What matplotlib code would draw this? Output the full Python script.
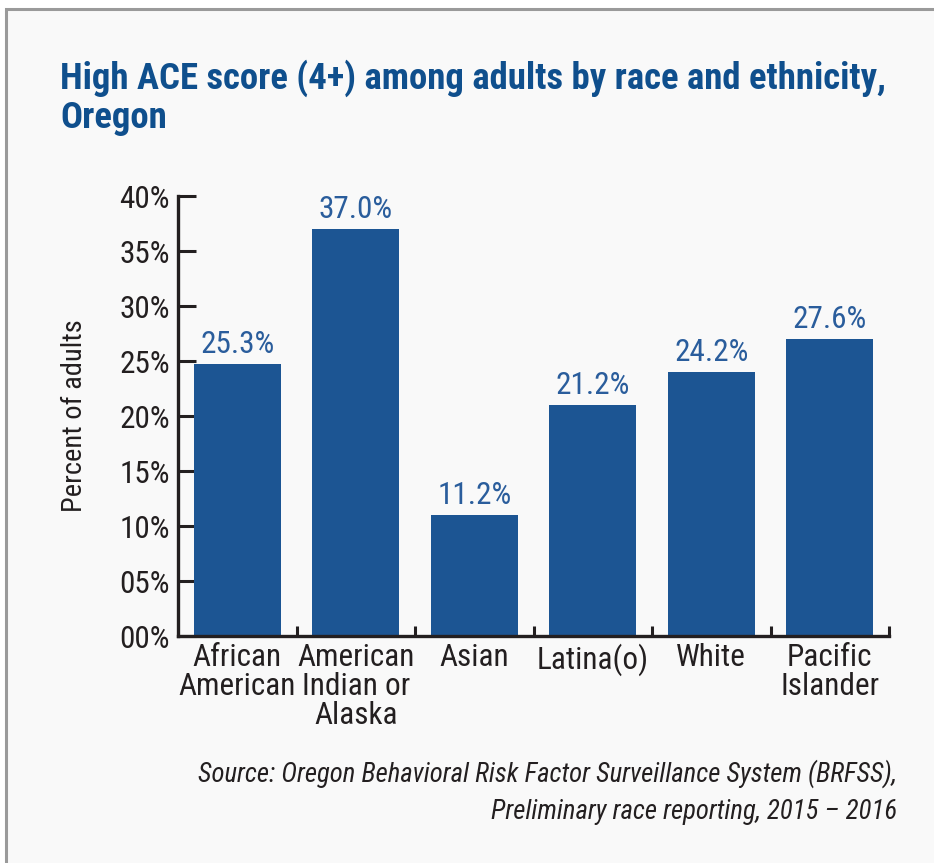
import matplotlib.pyplot as plt
from matplotlib.patches import Rectangle

groups = ['African\nAmerican', 'American\nIndian or\nAlaska', 'Asian', 'Latina(o)', 'White', 'Pacific\nIslander']
bar_heights = [24.7, 37.0, 11.0, 21.0, 24.0, 27.0]
value_labels = ['25.3%', '37.0%', '11.2%', '21.2%', '24.2%', '27.6%']
yticks = [0, 5, 10, 15, 20, 25, 30, 35, 40]

narrow = ['Liberation Sans Narrow', 'Roboto Condensed', 'Liberation Sans', 'DejaVu Sans']
plt.rcParams['font.family'] = narrow

bar_color = '#1c5593'
text_blue = '#2a5d9c'
title_blue = '#0f4f8d'
dark = '#231f20'

fig = plt.figure(figsize=(9.34, 8.63), dpi=100, facecolor='white')
# panel background with grey border on left and top
fig.patches.append(Rectangle((6/934, -0.1), 1.2, 1 - 9/863 + 0.1, transform=fig.transFigure,
                             facecolor='#f9f9f9', edgecolor='#9a9a9a', linewidth=2.2, zorder=-5))

ax = fig.add_axes([178/934, 1 - 636/863, (889 - 178)/934, (636 - 196)/863])
ax.set_facecolor('none')
ax.set_zorder(5)

x = range(len(groups))
ax.bar(x, bar_heights, width=0.73, color=bar_color, zorder=2)
for i, h in enumerate(bar_heights):
    ax.text(i, h + 0.5, value_labels[i], ha='center', va='bottom', fontsize=22.5, color=text_blue)

ax.set_xlim(-0.5, 5.5)
ax.set_ylim(0, 40)
ax.set_yticks(yticks)
ax.set_yticklabels(['%02d%%' % t for t in yticks], fontsize=22.5, color=dark)
ax.set_xticks(list(x))
ax.set_xticklabels(groups, fontsize=22.5, color=dark, linespacing=1.0)
ax.set_xticks([i + 0.5 for i in x], minor=True)

ax.tick_params(axis='y', direction='in', length=13, width=2.2, color=dark, pad=6)
ax.tick_params(axis='x', which='major', length=0, pad=5)
ax.tick_params(axis='x', which='minor', direction='in', length=7, width=2.2, color=dark)

for s in ['top', 'right']:
    ax.spines[s].set_visible(False)
for s in ['left', 'bottom']:
    ax.spines[s].set_linewidth(2.4)
    ax.spines[s].set_color(dark)

ax.set_ylabel('Percent of adults', fontsize=20.5, color=dark, labelpad=22)

fig.text(60/934, 1 - 128/863, 'High ACE score (4+) among adults by race and ethnicity,\nOregon',
         fontsize=26.5, fontweight='bold', color=title_blue, ha='left', va='baseline', linespacing=1.1)

fig.text(897/934, 1 - 782/863, 'Source: Oregon Behavioral Risk Factor Surveillance System (BRFSS),',
         fontsize=19.3, style='italic', color=dark, ha='right', va='baseline')
fig.text(897/934, 1 - 819/863, 'Preliminary race reporting, 2015 \u2013 2016',
         fontsize=19.3, style='italic', color=dark, ha='right', va='baseline')

fig.savefig('out.png', dpi=100, facecolor='white')
